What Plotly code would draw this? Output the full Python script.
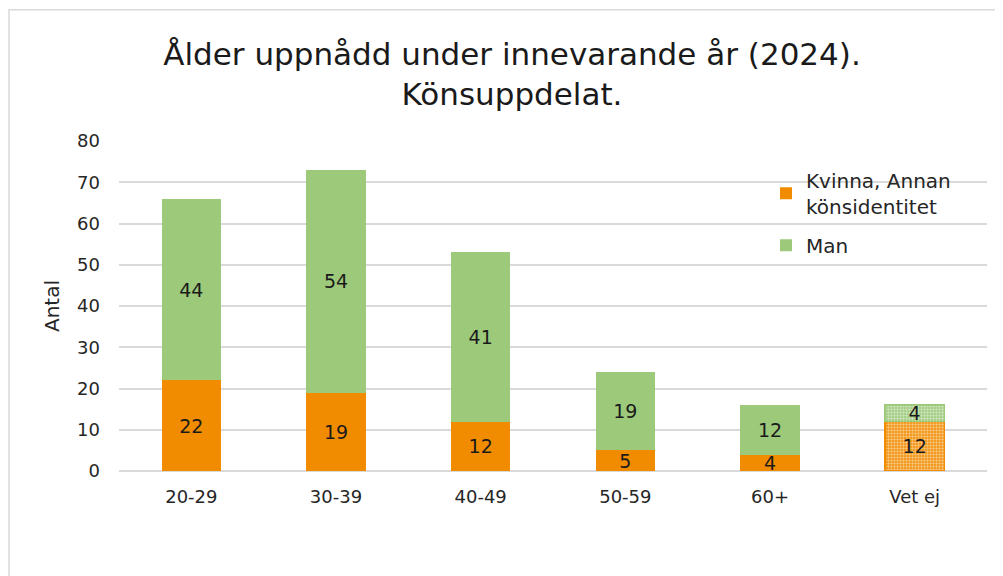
import plotly.graph_objects as go

categories = ["20-29", "30-39", "40-49", "50-59", "60+", "Vet ej"]
kvinna = [22, 19, 12, 5, 4, 12]
man = [44, 54, 41, 19, 12, 4]
y_ticks = [0, 10, 20, 30, 40, 50, 60, 70, 80]

ORANGE = "#F18C00"
GREEN = "#9CC97A"
FONT = "'DejaVu Sans', sans-serif"

patterns = ["", "", "", "", "", "."]

def series(name, vals, color, group):
    return go.Bar(
        name=name, x=categories, y=vals, legendgroup=group,
        marker=dict(
            color=color,
            line=dict(color=color, width=[0, 0, 0, 0, 0, 1.5]),
            pattern=dict(shape=patterns, fgcolor="white", bgcolor=color,
                         size=3, solidity=0.5, fillmode="overlay"),
        ),
        text=[str(v) for v in vals], textposition="inside",
        insidetextanchor="middle", textangle=0, constraintext="none",
        textfont=dict(size=19, color="#1a1a1a", family=FONT),
        width=0.41,
    )

fig = go.Figure([
    series("Kvinna, Annan<br>könsidentitet", kvinna, ORANGE, "k"),
    series("Man", man, GREEN, "m"),
])

# page has an 8px body margin; work in figure coordinates (page - 8)
OFF = 8
W, H = 1003 - OFF, 576 - OFF
L, R, T, B = 119 - OFF, 987 - OFF, 141.4 - OFF, 470.7 - OFF

fig.update_layout(
    width=W, height=H, barmode="stack",
    paper_bgcolor="white", plot_bgcolor="white",
    margin=dict(l=L, r=W - R, t=T, b=H - B, autoexpand=False),
    font=dict(family=FONT, color="#262626"),
    title=dict(text="Ålder uppnådd under innevarande år (2024).<br>Könsuppdelat.",
               x=(512 - OFF) / W, xanchor="center", y=1 - (65 - OFF) / H, yanchor="middle",
               font=dict(size=31, color="#1a1a1a", family=FONT)),
    showlegend=True,
    legend=dict(x=(766 - OFF - L) / (R - L), y=(B - (161 - OFF)) / (B - T),
                xanchor="left", yanchor="top",
                font=dict(size=20, color="#262626", family=FONT),
                bgcolor="rgba(0,0,0,0)", traceorder="grouped",
                itemwidth=30, tracegroupgap=10),
    xaxis=dict(showgrid=False, showline=False, ticks="",
               tickfont=dict(size=18, color="#262626"), ticklabelstandoff=13),
    yaxis=dict(range=[0, 80], tickvals=y_ticks, showgrid=True, gridcolor="#D9D9D9",
               gridwidth=1.5, zeroline=True, zerolinecolor="#D9D9D9", zerolinewidth=1.5,
               showline=False, ticks="", ticklabelstandoff=18,
               tickfont=dict(size=18, color="#262626"),
               title=dict(text="Antal", font=dict(size=20, color="#262626"), standoff=12)),
    bargap=0.59,
)

# chart frame (page x=8, y=10)
px = lambda v: (v - OFF - L) / (R - L)
py = lambda v: (B - (v - OFF)) / (B - T)
fig.add_shape(type="line", xref="paper", yref="paper", x0=px(9), x1=px(9), y0=py(10), y1=py(600),
              line=dict(color="#D9D9D9", width=1.5))
fig.add_shape(type="line", xref="paper", yref="paper", x0=px(9), x1=px(1010), y0=py(10.5), y1=py(10.5),
              line=dict(color="#D9D9D9", width=1.5))

fig.write_html("out.html")
